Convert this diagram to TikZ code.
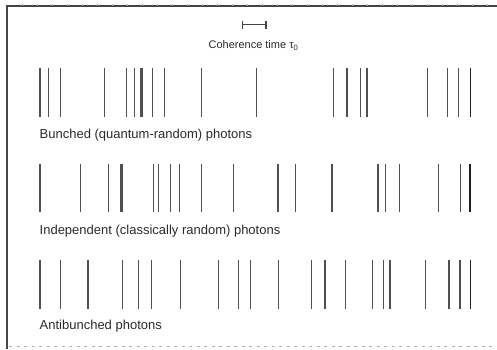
\documentclass[tikz,border=0pt]{standalone}
\usepackage{fontspec}
\setmainfont{Liberation Sans}
\definecolor{barc}{HTML}{505050}
\definecolor{darkbar}{HTML}{202020}
\definecolor{txtc}{HTML}{2A2A2A}
\definecolor{framec}{HTML}{454545}
\definecolor{tickc}{HTML}{B0B0B0}
\begin{document}
\begin{tikzpicture}[x=1bp,y=-1bp,
  photon/.style={draw=barc,line width=1.3bp},
  thickphoton/.style={draw=barc,line width=2.6bp},
  darkphoton/.style={draw=darkbar,line width=1.3bp},
  lbl/.style={anchor=west,inner sep=0pt,text=txtc,font=\fontsize{13bp}{15bp}\selectfont},
  small/.style={inner sep=0pt,text=txtc,font=\fontsize{11bp}{13bp}\selectfont}]
\useasboundingbox (0,0) rectangle (497,349);
% frame
\draw[framec,line width=1.4bp] (7,6) -- (497,6);
\draw[framec,line width=2bp] (7,5.3) -- (7,349);
\foreach \x in {22,37,...,497} \draw[tickc,line width=0.6bp] (\x,3.5) -- (\x,6);
\draw[tickc,line width=0.8bp,dash pattern=on 3bp off 4.5bp] (9,346) -- (497,346);
% coherence time
\draw[framec,line width=1.4bp] (242.3,24.5) -- (266,24.5);
\draw[framec,line width=1.2bp] (242.3,20.5) -- (242.3,28.5);
\draw[framec,line width=1.2bp] (266,20.5) -- (266,28.5);
\node[small] (coh) at (253.5,45.5) {Coherence time τ\textsubscript{0}};
% row 1: bunched
\foreach \x in {40,48.3,60.7,104.2,126.7,134.3,152.3,164.7,201.3,256.5,333.3,360.8,367,427.5,447.8,458.8}
  \draw[photon] (\x,68) -- (\x,117);
\foreach \x in {141.3,347} \draw[thickphoton] (\x,68) -- (\x,117);
\draw[darkphoton] (470.3,68) -- (470.3,117);
\node[lbl] (bunched) at (39.5,135.5) {Bunched (quantum-random) photons};
% row 2: independent
\foreach \x in {40,80.5,108.6,153.3,158.4,170.2,179.3,201.2,233.8,278,295.5,378,385.8,399.2,438.3,460.7}
  \draw[photon] (\x,164) -- (\x,212);
\foreach \x in {121.5,332} \draw[thickphoton] (\x,164) -- (\x,212);
\draw[darkphoton] (470,164) -- (470,212);
\node[lbl] (indep) at (39.5,231) {Independent (classically random) photons};
% row 3: antibunched
\foreach \x in {40,60.5,88,122.7,138.5,151.7,180.8,218.5,238.3,250.3,278.2,311.7,325,345.7,372.7,383.3,390,425.7,449,460}
  \draw[photon] (\x,260) -- (\x,308.5);
\draw[darkphoton] (470.5,260) -- (470.5,308.5);
\node[lbl] (anti) at (39.5,326.5) {Antibunched photons};
\end{tikzpicture}
\end{document}
